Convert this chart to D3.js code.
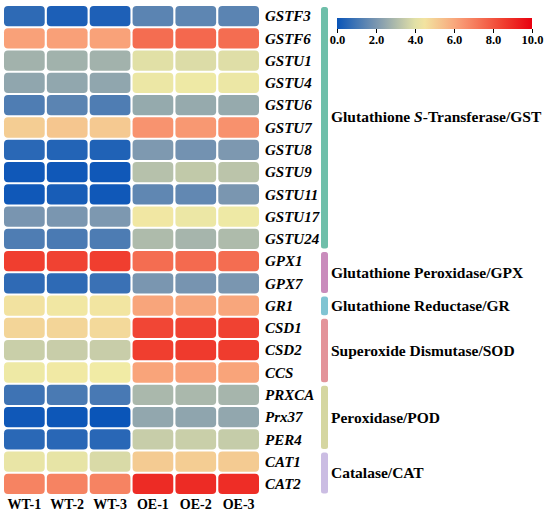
<!DOCTYPE html>
<html>
<head>
<meta charset="utf-8">
<script src="https://cdn.jsdelivr.net/npm/d3@7"></script>
<style>
  body { margin: 0; background: #fff; }
  svg { display: block; font-family: "Liberation Serif", "Times New Roman", serif; }
  .gene { font-size: 15px; font-weight: bold; font-style: italic; }
  .sample { font-size: 14px; font-weight: bold; }
  .group { font-size: 15.5px; font-weight: bold; }
  .legend text { font-size: 12.5px; font-weight: bold; font-family: "Liberation Serif", serif; }
</style>
</head>
<body>
<script>
// data
var samples = ["WT-1", "WT-2", "WT-3", "OE-1", "OE-2", "OE-3"];
var genes = ["GSTF3", "GSTF6", "GSTU1", "GSTU4", "GSTU6", "GSTU7", "GSTU8", "GSTU9", "GSTU11",
             "GSTU17", "GSTU24", "GPX1", "GPX7", "GR1", "CSD1", "CSD2", "CCS", "PRXCA", "Prx37",
             "PER4", "CAT1", "CAT2"];
var values = [
  [0.64, 0.32, 0.35, 1.45, 1.50, 1.45],
  [6.17, 6.20, 6.15, 7.43, 7.53, 7.43],
  [2.77, 2.75, 2.77, 4.00, 3.90, 3.95],
  [2.43, 2.45, 2.43, 4.20, 4.25, 4.20],
  [1.24, 1.45, 1.24, 2.53, 2.55, 2.55],
  [5.05, 5.25, 5.15, 6.50, 6.40, 6.55],
  [0.57, 0.45, 0.40, 2.07, 1.87, 2.05],
  [0.10, 0.10, 0.10, 3.15, 3.38, 3.25],
  [0.10, 0.25, 0.10, 1.53, 1.57, 2.00],
  [1.98, 2.00, 2.05, 4.40, 4.20, 4.25],
  [1.23, 1.15, 1.20, 3.00, 2.85, 3.00],
  [8.54, 8.45, 8.54, 7.43, 7.50, 7.43],
  [0.66, 0.65, 0.85, 2.00, 1.95, 2.00],
  [4.52, 4.40, 4.45, 6.07, 6.05, 6.05],
  [4.86, 4.86, 4.75, 8.35, 8.45, 8.45],
  [3.53, 3.50, 3.50, 8.55, 8.65, 8.60],
  [4.25, 4.35, 4.30, 6.10, 6.20, 6.10],
  [0.92, 1.15, 1.10, 2.92, 2.92, 2.85],
  [0.10, 0.05, 0.00, 2.47, 2.40, 2.47],
  [0.58, 0.55, 0.55, 3.49, 3.53, 3.45],
  [4.15, 4.10, 3.83, 5.10, 5.05, 5.10],
  [6.90, 6.90, 6.90, 9.00, 9.00, 8.95]
];
// enzyme groups: label parts, first and last gene
var groupNames = [["Glutathione ", "S", "-Transferase/GST"], ["Glutathione Peroxidase/GPX"],
                  ["Glutathione Reductase/GR"], ["Superoxide Dismutase/SOD"],
                  ["Peroxidase/POD"], ["Catalase/CAT"]];
var groupStart = ["GSTF3", "GPX1", "GR1", "CSD1", "PRXCA", "CAT1"];
var groupEnd = ["GSTU24", "GPX7", "GR1", "CCS", "PER4", "CAT2"];
var groupColors = ["#6fbfaa", "#c98cbc", "#80c4d3", "#e3949a", "#d5d6a1", "#cbbde3"];
var legendTicks = [0, 2, 4, 6, 8, 10];

(function(){
  var width = 550,
      height = 515;

  var svg = d3.select("body")
    .append("svg")
    .attr("width", width)
    .attr("height", height);

  // colour scale blue - pale yellow - salmon - red
  var color = d3.scaleLinear()
    .domain([0, 2, 4.3, 6.2, 8.5, 10])
    .range(["#0a55b8", "#7a96b0", "#f1eba5", "#f9a078", "#f04030", "#e8000f"]);

  var x = d3.scaleBand()
    .domain(samples)
    .range([4, 259])
    .paddingInner(0.05);

  var y = d3.scaleBand()
    .domain(genes)
    .range([6, 494])
    .paddingInner(0.09);

  // heatmap cells
  var cells = [];
  genes.forEach(function(g, i){
    samples.forEach(function(s, j){
      cells.push({gene: g, sample: s, value: values[i][j]});
    });
  });

  svg.append("g")
    .selectAll("rect")
    .data(cells)
    .enter()
    .append("rect")
    .attr("x", function(d){ return x(d.sample); })
    .attr("y", function(d){ return y(d.gene); })
    .attr("width", x.bandwidth())
    .attr("height", y.bandwidth())
    .attr("rx", 4)
    .attr("fill", function(d){ return color(d.value); });

  // gene labels
  svg.append("g")
    .selectAll("text")
    .data(genes)
    .enter()
    .append("text")
    .attr("class", "gene")
    .attr("x", 265)
    .attr("y", function(d){ return y(d) + y.bandwidth() / 2; })
    .attr("dy", "0.35em")
    .text(function(d){ return d; });

  // sample labels
  svg.append("g")
    .selectAll("text")
    .data(samples)
    .enter()
    .append("text")
    .attr("class", "sample")
    .attr("x", function(d){ return x(d) + x.bandwidth() / 2; })
    .attr("y", 509)
    .attr("text-anchor", "middle")
    .text(function(d){ return d; });

  // group bars and labels
  var step = y.step();
  groupNames.forEach(function(name, i){
    var y0 = y(groupStart[i]) + 1,
        y1 = y(groupEnd[i]) + y.bandwidth() - 0.5;
    svg.append("rect")
      .attr("x", 321)
      .attr("y", y0)
      .attr("width", 7)
      .attr("height", y1 - y0)
      .attr("rx", 2.5)
      .attr("fill", groupColors[i]);

    var mid = (y0 + y1) / 2;
    // the GST label sits half a row above the middle of its bar
    if (i == 0) mid -= step / 2;

    var t = svg.append("text")
      .attr("class", "group")
      .attr("x", 331)
      .attr("y", mid)
      .attr("dy", "0.35em");
    name.forEach(function(part, k){
      t.append("tspan")
        .attr("font-style", part == "S" ? "italic" : null)
        .text(part);
    });
  });

  // colour legend
  var lx = d3.scaleLinear().domain([0, 10]).range([337, 532]);
  var defs = svg.append("defs");
  var grad = defs.append("linearGradient")
    .attr("id", "legendGrad");
  d3.range(0, 10.01, 0.5).forEach(function(v){
    grad.append("stop")
      .attr("offset", (v / 10 * 100) + "%")
      .attr("stop-color", color(v));
  });

  svg.append("rect")
    .attr("x", lx(0))
    .attr("y", 18)
    .attr("width", lx(10) - lx(0))
    .attr("height", 11)
    .attr("fill", "url(#legendGrad)");

  var legendAxis = svg.append("g")
    .attr("class", "legend")
    .attr("transform", "translate(0,29)")
    .call(d3.axisBottom(lx)
      .tickValues(legendTicks)
      .tickFormat(d3.format(".1f"))
      .tickSize(4)
      .tickPadding(2));
  legendAxis.select(".domain").remove();
  legendAxis.selectAll("text").attr("fill", "#000");
})();
</script>
</body>
</html>
